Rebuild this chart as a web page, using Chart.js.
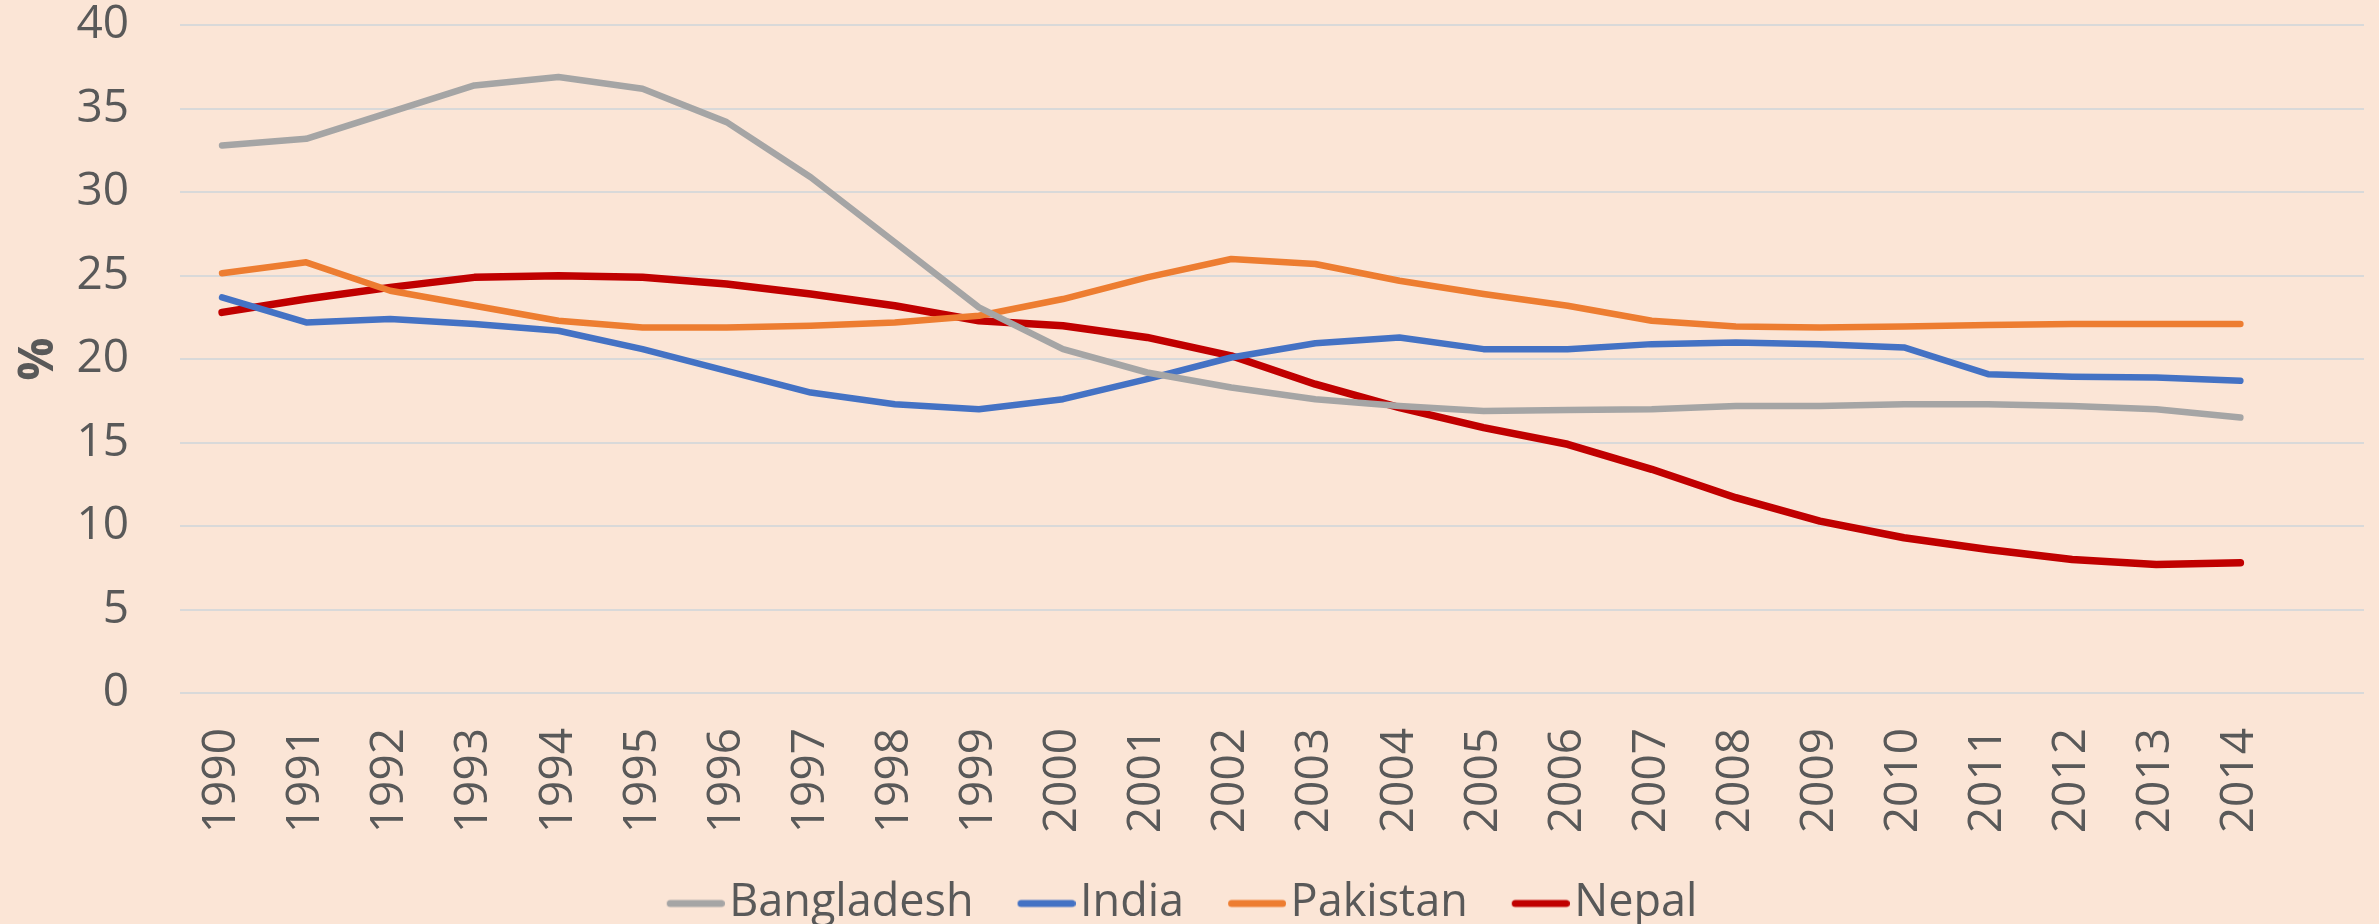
<!DOCTYPE html>
<html>
<head>
<meta charset="utf-8">
<script src="https://cdn.jsdelivr.net/npm/chart.js@4.4.0/dist/chart.umd.min.js"></script>
<style>
html,body{margin:0;padding:0;background:#FBE5D6;}
#wrap{width:2379px;height:924px;position:relative;}
</style>
</head>
<body>
<div id="wrap"><canvas id="c" width="2379" height="924"></canvas></div>
<script>
const years = ["1990","1991","1992","1993","1994","1995","1996","1997","1998","1999","2000","2001","2002","2003","2004","2005","2006","2007","2008","2009","2010","2011","2012","2013","2014"];
const bangladesh = [32.8,33.2,34.8,36.4,36.9,36.2,34.2,30.9,27.0,23.1,20.6,19.2,18.3,17.6,17.2,16.9,16.95,17.0,17.2,17.2,17.3,17.3,17.2,17.0,16.5];
const india = [23.7,22.2,22.4,22.1,21.7,20.6,19.3,18.0,17.3,17.0,17.6,18.8,20.1,20.95,21.3,20.6,20.6,20.9,21.0,20.9,20.7,19.1,18.95,18.9,18.7];
const pakistan = [25.15,25.8,24.1,23.2,22.3,21.9,21.9,22.0,22.2,22.6,23.6,24.9,26.0,25.7,24.7,23.9,23.2,22.3,21.95,21.9,21.95,22.05,22.1,22.1,22.1];
const nepal = [22.8,23.6,24.3,24.9,25.0,24.9,24.5,23.9,23.2,22.3,22.0,21.3,20.2,18.5,17.1,15.9,14.9,13.4,11.7,10.3,9.3,8.6,8.0,7.7,7.8];
const yTicks = [0,5,10,15,20,25,30,35,40];
const seriesNames = ["Bangladesh","India","Pakistan","Nepal"];

const colors = ["#A5A5A5","#4472C4","#ED7D31","#C00000"];
const widths = [6.5,6.5,6.5,7.5];
const dataArr = [bangladesh, india, pakistan, nepal];

// legend marker: short rounded line, shifted so the text sits close to it
function legendMarker(color){
  const c = document.createElement('canvas');
  c.width = 110; c.height = 14;
  const g = c.getContext('2d');
  g.strokeStyle = color; g.lineWidth = 7; g.lineCap = 'round';
  g.beginPath(); g.moveTo(55.5,7); g.lineTo(106.5,7); g.stroke();
  return c;
}

const bgPlugin = {
  id:'bg',
  beforeDraw(chart){
    const ctx = chart.ctx;
    ctx.save();
    ctx.fillStyle = '#FBE5D6';
    ctx.fillRect(0,0,chart.width,chart.height);
    ctx.restore();
  }
};

const FONT = "'Open Sans','DejaVu Sans',sans-serif";

new Chart(document.getElementById('c'), {
  type:'line',
  data:{
    datasets: seriesNames.map((n,i)=>({
      label:n,
      data:dataArr[i].map((v,j)=>({x:j,y:v})),
      borderColor:colors[i],
      backgroundColor:colors[i],
      borderWidth:widths[i],
      pointRadius:0,
      pointStyle:legendMarker(colors[i]),
      tension:0,
      borderCapStyle:'round',
      borderJoinStyle:'round',
      fill:false
    }))
  },
  options:{
    responsive:false,
    animation:false,
    devicePixelRatio:1,
    layout:{padding:{left:-34,right:15,top:0,bottom:-12}},
    plugins:{
      legend:{
        position:'bottom',
        labels:{
          color:'#595959',
          font:{family:FONT,size:45},
          usePointStyle:true,
          pointStyleWidth:74,
          boxHeight:12,
          padding:10
        }
      },
      tooltip:{enabled:false}
    },
    scales:{
      x:{
        type:'linear',
        min:-0.5,
        max:25.47,
        afterBuildTicks(scale){ scale.ticks = years.map((y,j)=>({value:j})); },
        grid:{display:false,drawTicks:false},
        border:{display:false},
        ticks:{
          color:'#595959',
          font:{family:FONT,size:46},
          minRotation:90,maxRotation:90,
          autoSkip:false,
          padding:35,
          callback:(v)=>years[v]
        },
        afterFit(scale){ scale.height = 178; }
      },
      y:{
        min:0,max:40,
        afterBuildTicks(scale){ scale.ticks = yTicks.map(v=>({value:v})); },
        grid:{color:'#D9D9D9',lineWidth:2,drawTicks:true,tickLength:51,tickColor:'rgba(0,0,0,0)'},
        border:{display:false},
        ticks:{
          color:'#595959',
          font:{family:FONT,size:46,lineHeight:1.1},
          padding:0
        },
        title:{
          display:true,
          text:'%',
          color:'#595959',
          font:{family:FONT,size:48,weight:'bold'},
          padding:{top:45,bottom:0}
        },
        afterFit(scale){ scale.width = 214; }
      }
    }
  },
  plugins:[bgPlugin]
});
</script>
</body>
</html>
